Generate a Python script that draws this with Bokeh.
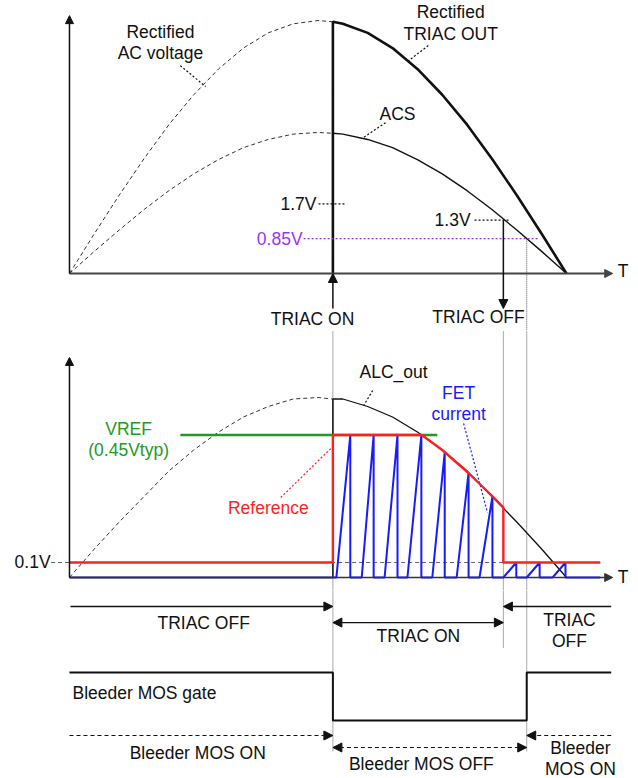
from bokeh.plotting import figure
from bokeh.layouts import column
from bokeh.models import Range1d, Arrow, NormalHead
from bokeh.core.properties import value
from bokeh.embed import file_html
from bokeh.resources import INLINE

# ---------------- data (time in arbitrary units over one rectified half cycle) ----------------
t_wave = [0, 0.5, 1, 1.5, 2, 2.5, 3, 3.5, 4, 4.5, 5, 5.3, 5.5, 6, 6.5, 7, 7.5, 8, 8.5, 9, 9.5, 10]
ac_voltage = [0, 0.97, 1.91, 2.80, 3.63, 4.36, 4.99, 5.50, 5.87, 6.09, 6.17, 6.14, 6.09, 5.87, 5.50, 4.99,
              4.36, 3.63, 2.80, 1.91, 0.97, 0]
acs_voltage = [0, 0.54, 1.06, 1.56, 2.02, 2.43, 2.78, 3.07, 3.27, 3.40, 3.44, 3.42, 3.40, 3.27, 3.07, 2.78,
               2.43, 2.02, 1.56, 1.06, 0.54, 0]
alc_out = [0, 0.19, 0.37, 0.54, 0.71, 0.85, 0.97, 1.07, 1.14, 1.19, 1.20, 1.19, 1.19, 1.14, 1.07, 0.97,
           0.85, 0.71, 0.54, 0.37, 0.19, 0]

t_triac_on = 5.3
t_triac_off = 8.73
t_bleeder_on = 9.2
t_end = 10.9
t_axis_end = 10.93

acs_labels = ["1.7V", "1.3V", "0.85V"]
acs_levels = [1.7, 1.3, 0.85]

vref_level = 0.95
low_level = 0.1
ref_t = [0, 5.3, 5.3, 7.09, 7.5, 8.0, 8.5, 8.73, 8.73, 10.68]
ref_v = [0.1, 0.1, 0.95, 0.95, 0.85, 0.705, 0.545, 0.467, 0.1, 0.1]

tooth_start = [5.37, 5.88, 6.34, 6.80, 7.30, 7.79, 8.25, 8.73, 9.20, 9.72]
tooth_peak_t = [5.65, 6.12, 6.60, 7.08, 7.55, 8.03, 8.51, 8.99, 9.46, 9.98]
tooth_peak = [0.95, 0.95, 0.95, 0.95, 0.835, 0.697, 0.541, 0.1, 0.1, 0.1]
fet_end = 10.68

gate_t = [0, 5.3, 5.3, 9.2, 9.2, 10.9]
gate_level = [1, 1, 0, 0, 1, 1]

# ---------------- styling helpers ----------------
FONT = value("Liberation Sans")
FS = "17.5px"
XL, XR = -1.388, 11.449
BLACK = "#111111"
GRAY = "#555555"
RED = "#ff1f1f"
BLUE = "#1a1aff"
GREEN = "#239a23"
PURPLE = "#9933ff"


def make_fig(h, y0, y1):
    p = figure(width=638, height=h, x_range=Range1d(XL, XR), y_range=Range1d(y0, y1),
               output_backend="svg", toolbar_location=None, x_axis_type=None, y_axis_type=None,
               min_border=0)
    p.outline_line_color = None
    p.background_fill_color = "white"
    p.border_fill_color = "white"
    return p


def txt(p, x, y, s, color=BLACK, align="center"):
    p.text(x=[x], y=[y], text=[s], text_font=FONT, text_font_size=FS, text_color=color,
           text_align=align, text_baseline="middle")


def arrow(p, x0, y0, x1, y1, color=BLACK, width=1.5, dash="solid", both=False, size=9):
    head = NormalHead(size=size, fill_color=color, line_color=color, line_width=1)
    start = NormalHead(size=size, fill_color=color, line_color=color, line_width=1) if both else None
    p.add_layout(Arrow(end=head, start=start, x_start=x0, y_start=y0, x_end=x1, y_end=y1,
                       line_color=color, line_width=width, line_dash=dash))


# ================= TOP PANEL =================
p1 = make_fig(330, -1.390, 6.659)
i_on = t_wave.index(t_triac_on)

# axes
arrow(p1, 0, 0, 0, 6.29, color=BLACK, width=1.5, size=8)
arrow(p1, 0, 0, t_axis_end, 0, color="#444444", width=2, size=8)
txt(p1, 11.03, 0.05, "T", align="left")

# rectified AC (dashed until triac on)
p1.line(t_wave[:i_on + 1], ac_voltage[:i_on + 1], line_dash="4 3", line_width=1, line_color="#333333")
p1.line(t_wave[:i_on + 1], acs_voltage[:i_on + 1], line_dash="4 3", line_width=1, line_color="#333333")
p1.line(t_wave[i_on:], acs_voltage[i_on:], line_width=1.4, line_color=BLACK)
p1.line([t_triac_on] + t_wave[i_on:], [0] + ac_voltage[i_on:], line_width=2.6, line_color=BLACK)

# labels + leaders
txt(p1, 1.83, 5.90, "Rectified")
txt(p1, 1.83, 5.37, "AC voltage")
p1.line([2.23, 2.74], [5.07, 4.56], line_dash="2 2", line_width=1.2, line_color=BLACK)
txt(p1, 7.67, 6.37, "Rectified")
txt(p1, 7.67, 5.85, "TRIAC OUT")
p1.line([7.22, 6.78], [5.56, 5.15], line_dash="2 2", line_width=1.2, line_color=BLACK)
txt(p1, 6.60, 3.90, "ACS")
p1.line([6.36, 5.92], [3.68, 3.32], line_dash="2 2", line_width=1.2, line_color=BLACK)

# threshold levels
txt(p1, 4.97, acs_levels[0], acs_labels[0], align="right")
p1.line([5.01, 5.57], [acs_levels[0]] * 2, line_dash="2 2", line_width=1.3, line_color=BLACK)
txt(p1, 8.07, acs_levels[1], acs_labels[1], align="right")
p1.line([8.15, 8.87], [acs_levels[1]] * 2, line_dash="2 2", line_width=1.3, line_color=BLACK)
txt(p1, 4.69, acs_levels[2], acs_labels[2], color=PURPLE, align="right")
p1.line([4.71, 9.42], [acs_levels[2]] * 2, line_dash="2 2", line_width=1.3, line_color=PURPLE)

# triac on / off arrows
arrow(p1, t_triac_on, -0.854, t_triac_on, 0, width=1.5, size=9)
txt(p1, 4.89, -1.12, "TRIAC ON")
arrow(p1, t_triac_off, acs_levels[1], t_triac_off, -0.854, width=1.5, size=9)
txt(p1, 8.23, -1.07, "TRIAC OFF")
p1.line([t_bleeder_on, t_bleeder_on], [acs_levels[2], -1.39], line_dash="1 1", line_width=1, line_color=GRAY)

# ================= MIDDLE PANEL =================
p2 = make_fig(260, -0.0867, 1.6467)

for tv in (t_triac_on, t_triac_off, t_bleeder_on):
    p2.line([tv, tv], [-0.0867, 1.6467], line_dash="1 1", line_width=1, line_color=GRAY)

arrow(p2, 0, 0, 0, 1.467, color=BLACK, width=1.5, size=8)
arrow(p2, 0, 0, t_axis_end, 0, color="#333333", width=1.3, size=8)
txt(p2, 11.03, 0.0, "T", align="left")

# 0.1V dashed reference
txt(p2, -0.38, low_level, "0.1V", align="right")
p2.line([-0.37, t_triac_off], [low_level] * 2, line_dash="4 3", line_width=1.2, line_color="#666666")

# ALC_out
p2.line(t_wave[:i_on + 1], alc_out[:i_on + 1], line_dash="4 3", line_width=1, line_color="#333333")
p2.line(t_wave[i_on:], alc_out[i_on:], line_width=1.3, line_color=BLACK)
p2.line([t_triac_on, t_triac_on], [0, alc_out[i_on]], line_width=1.5, line_color=BLACK)
txt(p2, 6.52, 1.367, "ALC_out")
p2.line([6.10, 5.92], [1.247, 1.147], line_dash="2 2", line_width=1.2, line_color=BLACK)

# VREF
p2.line([2.23, 7.40], [vref_level] * 2, line_width=2.6, line_color=GREEN)
txt(p2, 1.19, 0.993, "VREF", color=GREEN)
txt(p2, 1.19, 0.847, "(0.45Vtyp)", color=GREEN)

# FET current sawtooth
p2.line([0, t_triac_on], [0, 0], line_width=2.2, line_color="#1c1c80")
fet_x, fet_y = [t_triac_on], [0]
for s, pt, pv in zip(tooth_start, tooth_peak_t, tooth_peak):
    fet_x += [s, pt, pt]
    fet_y += [0, pv, 0]
fet_x.append(fet_end)
fet_y.append(0)
p2.line(fet_x, fet_y, line_width=2, line_color=BLUE)
txt(p2, 7.83, 1.233, "FET", color=BLUE)
txt(p2, 7.83, 1.093, "current", color=BLUE)
p2.line([7.93, 8.41], [1.027, 0.433], line_dash="2 2", line_width=1.2, line_color=BLUE)

# Reference
p2.line(ref_t, ref_v, line_width=2.4, line_color=RED)
txt(p2, 4.00, 0.46, "Reference", color=RED)
p2.line([4.25, 5.28], [0.533, 0.867], line_dash="2 2", line_width=1.2, line_color=RED)

# ================= BOTTOM PANEL =================
p3 = make_fig(188, -1.2083, 2.7083)

p3.line([t_triac_on, t_triac_on], [2.7083, -0.64], line_dash="1 1", line_width=1, line_color=GRAY)
p3.line([t_bleeder_on, t_bleeder_on], [2.7083, -0.64], line_dash="1 1", line_width=1, line_color=GRAY)
p3.line([t_triac_off, t_triac_off], [2.7083, 1.5], line_dash="1 1", line_width=1, line_color=GRAY)

# TRIAC state row
arrow(p3, 0.02, 2.375, t_triac_on, 2.375, width=1.4, size=9)
arrow(p3, t_end, 2.375, t_triac_off, 2.375, width=1.4, size=9)
txt(p3, 2.70, 2.04, "TRIAC OFF")
arrow(p3, t_triac_on, 2.04, t_triac_off, 2.04, width=1.4, size=9, both=True)
txt(p3, 7.02, 1.75, "TRIAC ON")
txt(p3, 10.06, 2.10, "TRIAC")
txt(p3, 10.06, 1.65, "OFF")

# Bleeder gate
p3.line(gate_t, gate_level, line_width=2, line_color=BLACK)
txt(p3, 0.06, 0.583, "Bleeder MOS gate", align="left")

# Bleeder state row
arrow(p3, 0, -0.3125, t_triac_on, -0.3125, width=1.2, dash="4 3", size=9)
arrow(p3, t_end, -0.3125, t_bleeder_on, -0.3125, width=1.2, dash="4 3", size=9)
txt(p3, 2.58, -0.667, "Bleeder MOS ON")
arrow(p3, t_triac_on, -0.5625, t_bleeder_on, -0.5625, width=1.2, dash="4 3", size=9, both=True)
txt(p3, 7.08, -0.896, "Bleeder MOS OFF")
txt(p3, 10.28, -0.5625, "Bleeder")
txt(p3, 10.28, -1.0, "MOS ON")

layout = column(p1, p2, p3, spacing=0)
open("out.html", "w").write(file_html(layout, INLINE))
